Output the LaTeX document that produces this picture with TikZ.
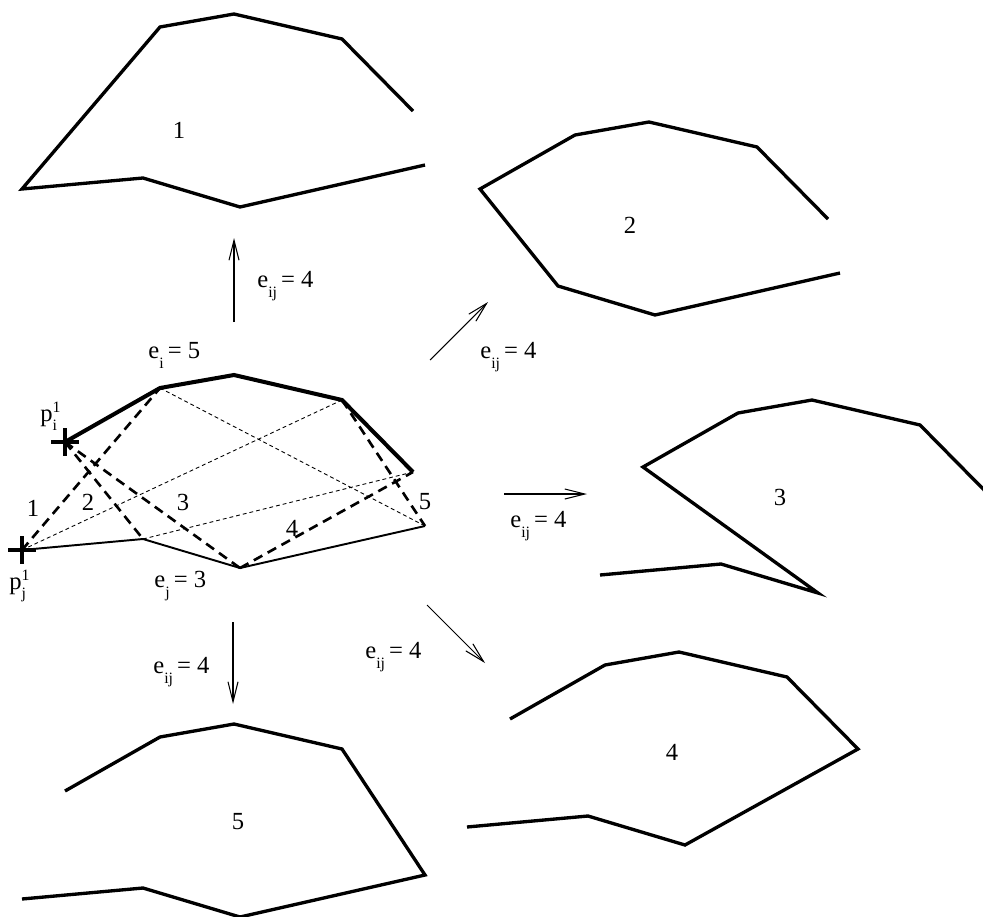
\documentclass[tikz,border=0pt]{standalone}
\usepackage{fontspec}
\setmainfont{Liberation Serif}
\usetikzlibrary{arrows.meta,shapes.misc}
\newcommand{\lo}[2][6pt]{\raisebox{-#1}{\fontsize{9}{10}\selectfont #2}}
\newcommand{\hi}[1]{\raisebox{5pt}{\fontsize{9}{10}\selectfont #1}}
\newcommand{\pnt}[1]{p\rlap{\hi{1}}\lo[5.5pt]{#1}}
\newcommand{\elab}[2]{e\lo{#1}\,= #2}
\tikzset{
  poly/.style={line width=1.9pt},
  chain/.style={line width=2.3pt},
  base/.style={line width=1.1pt},
  mrg/.style={line width=1.5pt,dash pattern=on 5.5pt off 3.5pt},
  diag/.style={line width=0.5pt,dash pattern=on 2.2pt off 1.7pt},
  move/.style={-{Straight Barb[length=4mm,width=2mm]},line width=0.6pt},
  crs/.style={cross out,draw,rotate=45,minimum size=3.1mm,inner sep=0pt,line width=2.3pt},
  lbl/.style={font=\fontsize{14}{16}\selectfont,inner sep=0pt,anchor=base west},
  num/.style={font=\fontsize{14}{16}\selectfont,inner sep=0pt},
}
\begin{document}
\begin{tikzpicture}[x=0.02cm,y=-0.02cm]
  \useasboundingbox (0,0) rectangle (983,916);
  % results of the five merges
  \begin{scope}[shift={(0,-361)}]
    \draw[poly] (413,472)--(342,400)--(234,375)--(160,388)--(22,550)--(143,539)--(240,568)--(425,526);
  \end{scope}
  \begin{scope}[shift={(415,-253)}]
    \draw[poly] (413,472)--(342,400)--(234,375)--(160,388)--(65,442)--(143,539)--(240,568)--(425,526);
  \end{scope}
  \begin{scope}
    \clip (0,0) rectangle (983,916);
    \begin{scope}[shift={(578,25)}]
      \draw[poly] (413,472)--(342,400)--(234,375)--(160,388)--(65,442)--(240,568)--(143,539)--(22,550);
    \end{scope}
  \end{scope}
  \begin{scope}[shift={(445,277)}]
    \draw[poly] (65,442)--(160,388)--(234,375)--(342,400)--(413,472)--(240,568)--(143,539)--(22,550);
  \end{scope}
  \begin{scope}[shift={(0,349)}]
    \draw[poly] (65,442)--(160,388)--(234,375)--(342,400)--(425,526)--(240,568)--(143,539)--(22,550);
  \end{scope}
  \node[num] (n1) at (179,130) {1};
  \node[num] (n2) at (630,225) {2};
  \node[num] (n3) at (780,497) {3};
  \node[num] (n4) at (672,752) {4};
  \node[num] (n5) at (238,822) {5};

  % the two chains and the candidate links
  \node[crs] (pi) at (65,442) {};
  \node[crs] (pj) at (22,550) {};
  \coordinate (a) at (160,388);
  \coordinate (b) at (234,375);
  \coordinate (c) at (342,400);
  \coordinate (d) at (413,472);
  \coordinate (f) at (143,539);
  \coordinate (g) at (240,568);
  \coordinate (h) at (425,526);
  \draw[diag] (a)--(h) (c)--(pj.center) (f)--(d);
  \draw[mrg] (pj.center)--(a) (pi.center)--(f) (pi.center)--(g) (g)--(d) (c)--(h);
  \draw[chain] (pi.center)--(a)--(b)--(c)--(d);
  \draw[base] (pj.center)--(f)--(g)--(h);
  \node[num] (l1) at (33,508) {1};
  \node[num] (l2) at (88,502) {2};
  \node[num] (l3) at (183,502) {3};
  \node[num] (l4) at (292,528) {4};
  \node[num] (l5) at (425,502) {5};
  \node[lbl] (ei) at (148,358) {\elab{i}{5}};
  \node[lbl] (ej) at (154,587) {\elab{j}{3}};
  \node[lbl] (tpi) at (40,421) {\pnt{i}};
  \node[lbl] (tpj) at (9,589) {\pnt{j}};

  % moves
  \coordinate (u0) at (234,322); \coordinate (u1) at (234,238);
  \coordinate (r0) at (430,360); \coordinate (r1) at (488,302);
  \coordinate (s0) at (504,494); \coordinate (s1) at (587,494);
  \coordinate (t0) at (427,605); \coordinate (t1) at (485,663);
  \coordinate (w0) at (233,622); \coordinate (w1) at (233,704);
  \draw[move] (u0)--(u1);
  \draw[move] (r0)--(r1);
  \draw[move] (s0)--(s1);
  \draw[move] (t0)--(t1);
  \draw[move] (w0)--(w1);
  \node[lbl] (eu) at (257,287) {\elab{ij}{4}};
  \node[lbl] (er) at (480,358) {\elab{ij}{4}};
  \node[lbl] (es) at (510,527) {\elab{ij}{4}};
  \node[lbl] (et) at (365,658) {\elab{ij}{4}};
  \node[lbl] (ew) at (153,673) {\elab{ij}{4}};
\end{tikzpicture}
\end{document}
